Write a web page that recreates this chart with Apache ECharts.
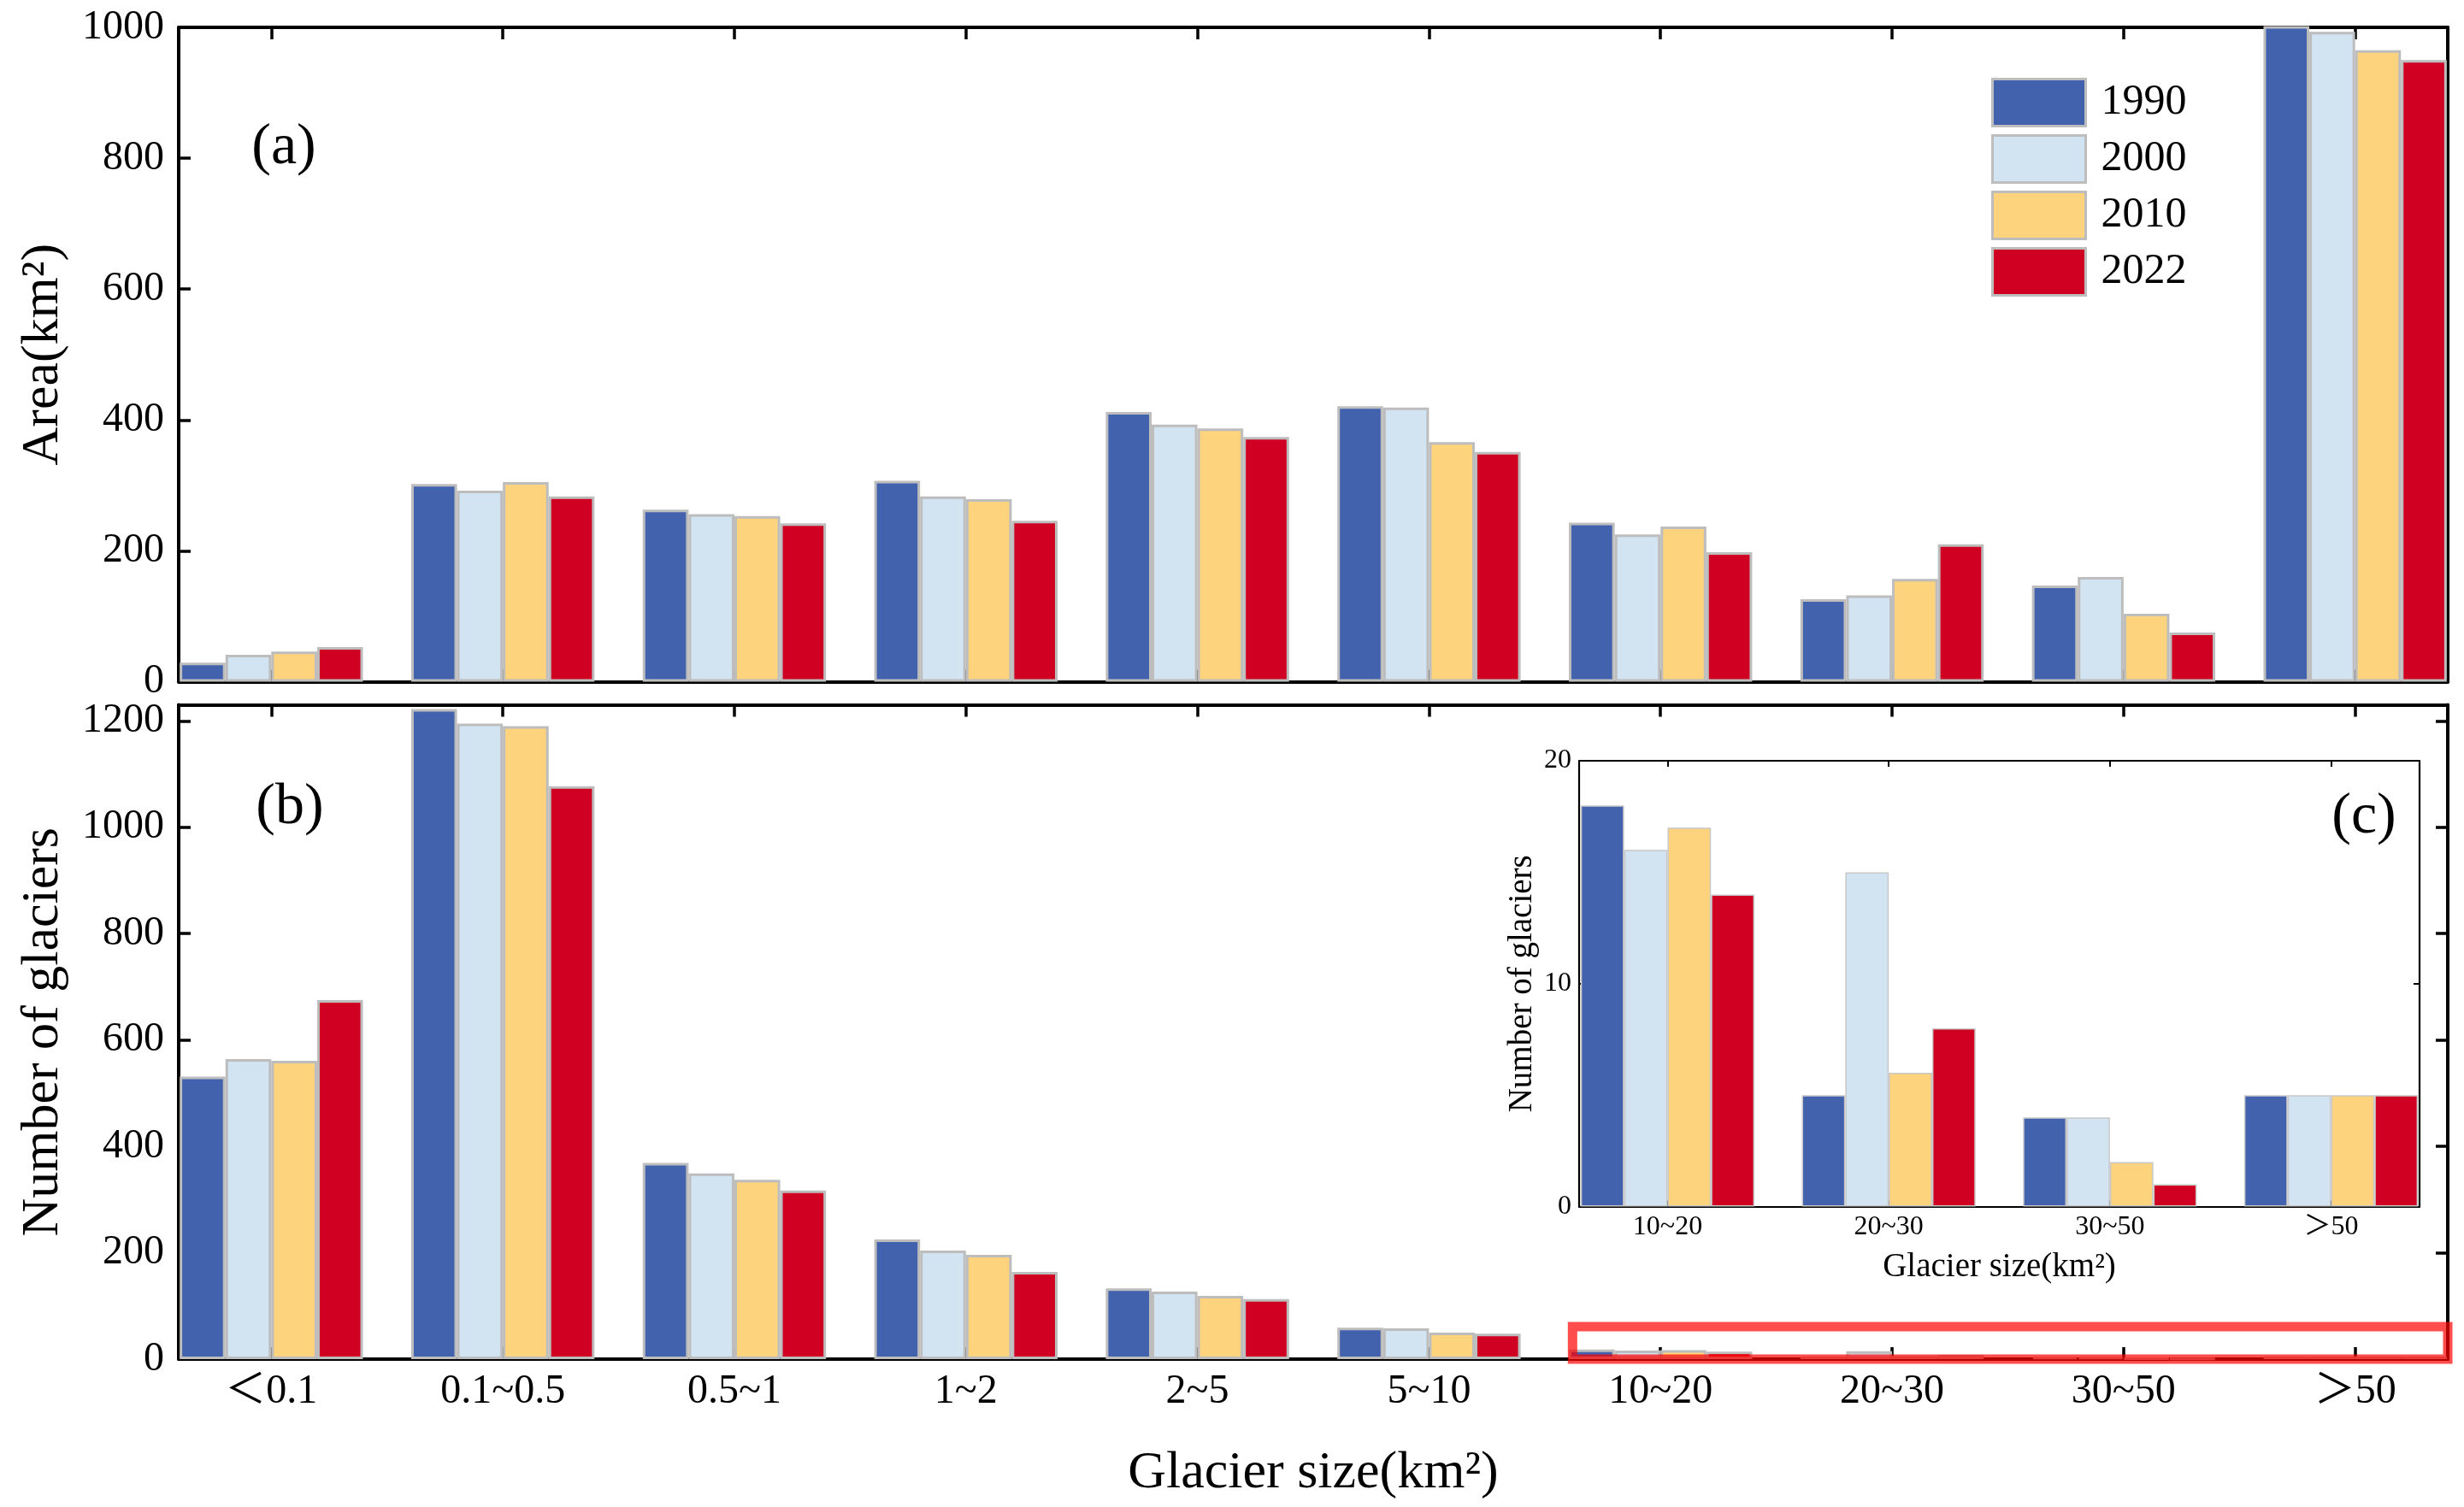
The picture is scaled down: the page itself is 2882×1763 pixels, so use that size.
<!DOCTYPE html>
<html><head><meta charset="utf-8">
<script src="https://cdn.jsdelivr.net/npm/echarts@6/dist/echarts.min.js"></script>
<style>html,body{margin:0;padding:0;background:#fff}#c{width:2882px;height:1763px}</style>
</head><body><div id="c"></div>
<script>
// ---- data ----
const categories = ['＜0.1', '0.1~0.5', '0.5~1', '1~2', '2~5', '5~10', '10~20', '20~30', '30~50', '＞50'];
const years = ['1990', '2000', '2010', '2022'];
const area1990 = [29, 302, 263, 307, 412, 421, 243, 126, 147, 1010];
const area2000 = [41, 292, 256, 283, 393, 419, 225, 132, 160, 993];
const area2010 = [46, 305, 253, 279, 387, 366, 237, 157, 104, 965];
const area2022 = [53, 283, 242, 246, 374, 351, 198, 210, 75, 950];
const count1990 = [531, 1222, 369, 225, 133, 59, 18, 5, 4, 5];
const count2000 = [564, 1195, 349, 204, 127, 58, 16, 15, 4, 5];
const count2010 = [561, 1190, 337, 196, 119, 50, 17, 6, 2, 5];
const count2022 = [675, 1077, 317, 164, 113, 48, 14, 8, 1, 5];
const insetFrom = 6;
const insetCategories = categories.slice(insetFrom);
const areaTicks = [0, 200, 400, 600, 800, 1000];
const countTicks = [0, 200, 400, 600, 800, 1000, 1200];
const insetTicks = [0, 10, 20];
const highlightBox = [[5.62, 61], [9.4, 0]];

// ---- styling ----
const FONT = "'Liberation Serif', 'Noto Sans CJK SC', serif";
const colors = ['#4262AE', '#D2E3F2', '#FED37E', '#D00022'];
const areaSeries = [area1990, area2000, area2010, area2022];
const countSeries = [count1990, count2000, count2010, count2022];
const catIdx = categories.map((_, i) => i);
const insetIdx = insetCategories.map((_, i) => i);
const plain = v => String(v);

function xAxisDef(grid, pos, nCat, ticks, opt) {
  const big = grid < 2;
  return Object.assign({
    type: 'value', gridIndex: grid, position: pos,
    min: -0.4, max: nCat - 1 + 0.4,
    axisLine: { show: true, onZero: false, lineStyle: { color: '#000', width: big ? 4 : 2.2 } },
    axisTick: { show: true, inside: true, length: big ? 14 : 7, customValues: ticks,
      lineStyle: { color: '#000', width: big ? 3.5 : 2 } },
    axisLabel: { show: false },
    splitLine: { show: false }
  }, opt || {});
}
function yAxisDef(grid, pos, max, ticks, opt) {
  const big = grid < 2;
  return Object.assign({
    type: 'value', gridIndex: grid, position: pos,
    min: 0, max: max,
    axisLine: { show: true, onZero: false, lineStyle: { color: '#000', width: big ? 4 : 2.2 } },
    axisTick: { show: true, inside: true, length: big ? 14 : 7, customValues: ticks,
      lineStyle: { color: '#000', width: big ? 3.5 : 2 } },
    axisLabel: { show: false },
    splitLine: { show: false }
  }, opt || {});
}

const xAxes = [
  xAxisDef(0, 'bottom', categories.length, catIdx),
  xAxisDef(0, 'top', categories.length, catIdx),
  xAxisDef(1, 'bottom', categories.length, catIdx, {
    axisLabel: { show: true, customValues: catIdx, margin: 14,
      formatter: v => categories[Math.round(v)],
      color: '#000', fontSize: 48, fontFamily: FONT },
    name: 'Glacier size(km²)', nameLocation: 'middle', nameGap: 103,
    nameTextStyle: { color: '#000', fontSize: 62, fontFamily: FONT }
  }),
  xAxisDef(1, 'top', categories.length, catIdx),
  xAxisDef(2, 'bottom', insetCategories.length, insetIdx, {
    axisLabel: { show: true, customValues: insetIdx, margin: 8,
      formatter: v => insetCategories[Math.round(v)],
      color: '#000', fontSize: 32, fontFamily: FONT },
    name: 'Glacier size(km²)', nameLocation: 'middle', nameGap: 52,
    nameTextStyle: { color: '#000', fontSize: 39, fontFamily: FONT }
  }),
  xAxisDef(2, 'top', insetCategories.length, insetIdx)
];
const yAxes = [
  yAxisDef(0, 'left', 1000, areaTicks, {
    axisLabel: { show: true, customValues: areaTicks, margin: 17, formatter: plain, color: '#000', fontSize: 48, fontFamily: FONT },
    name: 'Area(km²)', nameLocation: 'middle', nameRotate: 90, nameGap: 127,
    nameTextStyle: { color: '#000', fontSize: 62, fontFamily: FONT }
  }),
  yAxisDef(0, 'right', 1000, areaTicks),
  yAxisDef(1, 'left', 1230, countTicks, {
    axisLabel: { show: true, customValues: countTicks, margin: 17, formatter: plain, color: '#000', fontSize: 48, fontFamily: FONT },
    name: 'Number of glaciers', nameLocation: 'middle', nameRotate: 90, nameGap: 127,
    nameTextStyle: { color: '#000', fontSize: 62, fontFamily: FONT }
  }),
  yAxisDef(1, 'right', 1230, countTicks),
  yAxisDef(2, 'left', 20, insetTicks, {
    axisLabel: { show: true, customValues: insetTicks, margin: 9, formatter: plain, color: '#000', fontSize: 32, fontFamily: FONT },
    name: 'Number of glaciers', nameLocation: 'middle', nameRotate: 90, nameGap: 47,
    nameTextStyle: { color: '#000', fontSize: 39, fontFamily: FONT }
  }),
  yAxisDef(2, 'right', 20, insetTicks)
];

const series = [];
years.forEach((yr, i) => {
  series.push({
    type: 'bar', name: yr, xAxisIndex: 0, yAxisIndex: 0,
    data: areaSeries[i].map((v, k) => [k, v]),
    barWidth: 53.6, barGap: '0%',
    itemStyle: { color: colors[i], borderColor: '#BDBDBD', borderWidth: 3 }
  });
});
years.forEach((yr, i) => {
  const s = {
    type: 'bar', name: yr, xAxisIndex: 2, yAxisIndex: 2,
    data: countSeries[i].map((v, k) => [k, v]),
    barWidth: 53.6, barGap: '0%',
    itemStyle: { color: colors[i], borderColor: '#BDBDBD', borderWidth: 3 }
  };
  if (i === years.length - 1) {
    s.clip = false;
    s.markArea = {
      silent: true, z: 10,
      label: { show: false },
      itemStyle: { color: 'rgba(0,0,0,0)', borderColor: 'rgba(255,0,0,0.7)', borderWidth: 11 },
      data: [[{ coord: highlightBox[0] }, { coord: highlightBox[1] }]]
    };
  }
  series.push(s);
});
years.forEach((yr, i) => {
  series.push({
    type: 'bar', name: yr, xAxisIndex: 4, yAxisIndex: 4,
    data: countSeries[i].slice(insetFrom).map((v, k) => [k, v]),
    barWidth: 50.8, barGap: '0%',
    itemStyle: { color: colors[i], borderColor: '#C8C8C8', borderWidth: 1.5 }
  });
});

const chart = echarts.init(document.getElementById('c'), null, { renderer: 'canvas' });
chart.setOption({
  animation: false,
  backgroundColor: '#fff',
  grid: [
    { left: 209, right: 19, top: 32, bottom: 965.5 },
    { left: 209, right: 19, top: 824.6, bottom: 173 },
    { left: 1847, right: 52, top: 890, bottom: 351.4 }
  ],
  legend: {
    data: years, orient: 'vertical', left: 2329, top: 91, padding: 0,
    itemWidth: 109, itemHeight: 55, itemGap: 8, icon: 'rect',
    itemStyle: { borderColor: '#BDBDBD', borderWidth: 3 },
    textStyle: { color: '#000', fontSize: 50, fontFamily: FONT, padding: [0, 0, 0, 13] }
  },
  xAxis: xAxes,
  yAxis: yAxes,
  series: series,
  graphic: [
    { type: 'text', z: 20, style: { text: '(a)', x: 332, y: 173, fill: '#000', fontSize: 68, fontFamily: FONT, align: 'center', verticalAlign: 'middle' } },
    { type: 'text', z: 20, style: { text: '(b)', x: 339, y: 945, fill: '#000', fontSize: 68, fontFamily: FONT, align: 'center', verticalAlign: 'middle' } },
    { type: 'text', z: 20, style: { text: '(c)', x: 2765, y: 956, fill: '#000', fontSize: 68, fontFamily: FONT, align: 'center', verticalAlign: 'middle' } }
  ]
});
</script></body></html>
